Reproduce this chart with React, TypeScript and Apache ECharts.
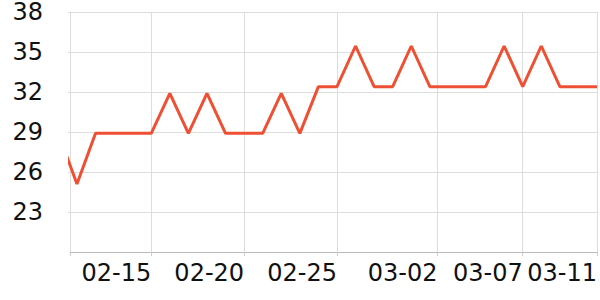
import React, { useEffect, useRef } from "react";
import * as echarts from "echarts";

const YEAR = "2023";
const dates = [
  "02-10", "02-11", "02-12", "02-13", "02-14", "02-15", "02-16", "02-17", "02-18", "02-19",
  "02-20", "02-21", "02-22", "02-23", "02-24", "02-25", "02-26", "02-27", "02-28", "03-01",
  "03-02", "03-03", "03-04", "03-05", "03-06", "03-07", "03-08", "03-09", "03-10", "03-11",
];
const values = [
  28.9, 25.1, 28.9, 28.9, 28.9, 28.9, 31.9, 28.9, 31.9, 28.9,
  28.9, 28.9, 31.9, 28.9, 32.4, 32.4, 35.45, 32.4, 32.4, 35.45,
  32.4, 32.4, 32.4, 32.4, 35.45, 32.4, 35.45, 32.4, 32.4, 32.4,
];
const xStart = "2023-02-10T15:00:00Z";
const xEnd = "2023-03-11T00:00:00Z";
const xTickTimes = [
  "2023-02-15T00:00:00Z",
  "2023-02-20T00:00:00Z",
  "2023-02-25T00:00:00Z",
  "2023-03-02T10:00:00Z",
  "2023-03-07T00:00:00Z",
  "2023-03-11T00:00:00Z",
];
const yTicks = [23, 26, 29, 32, 35, 38];

const pad = (n: number) => (n < 10 ? "0" + n : "" + n);
const fmt = (v: number) => {
  const d = new Date(v);
  return pad(d.getUTCMonth() + 1) + "-" + pad(d.getUTCDate());
};

export default function App() {
  const ref = useRef<HTMLDivElement>(null);
  useEffect(() => {
    if (!ref.current) return;
    const chart = echarts.init(ref.current, null, { renderer: "svg" });
    const data = dates.map((d, i) => [Date.parse(`${YEAR}-${d}T00:00:00Z`), values[i]]);
    const tickVals = xTickTimes.map((t) => Date.parse(t));
    const startV = Date.parse(xStart);
    const font = "DejaVu Sans";
    chart.setOption({
      animation: false,
      grid: { left: 70, right: 0, top: 10, bottom: 48, containLabel: false },
      xAxis: {
        type: "value",
        min: startV,
        max: Date.parse(xEnd),
        axisLine: { show: true, onZero: false, lineStyle: { color: "#bbbbbb", width: 1 } },
        axisTick: { show: true, length: 4, lineStyle: { color: "#cccccc" }, customValues: [startV, ...tickVals] },
        splitLine: { show: true, lineStyle: { color: "#dddddd", width: 1 } },
        axisLabel: {
          customValues: tickVals,
          formatter: (v: number) => fmt(v),
          align: "right",
          margin: 9,
          fontSize: 24,
          fontFamily: font,
          color: "#111111",
          showMinLabel: true,
          showMaxLabel: true,
        },
      },
      yAxis: {
        type: "value",
        min: 20,
        max: 38,
        axisLine: { show: true, onZero: false, lineStyle: { color: "#dddddd", width: 1 } },
        axisTick: { show: true, length: 2, lineStyle: { color: "#dddddd" }, customValues: yTicks },
        splitLine: { show: true, lineStyle: { color: "#dddddd", width: 1 } },
        axisLabel: {
          customValues: yTicks,
          margin: 27,
          fontSize: 24,
          lineHeight: 20,
          fontFamily: font,
          color: "#111111",
        },
      },
      series: [
        {
          type: "line",
          data,
          symbol: "none",
          clip: true,
          lineStyle: { color: "#ef4f32", width: 3 },
        },
      ],
    });
    return () => chart.dispose();
  }, []);
  return (
    <div
      ref={ref}
      style={{ position: "fixed", left: 0, top: 0, width: 600, height: 300, background: "#fff" }}
    />
  );
}
